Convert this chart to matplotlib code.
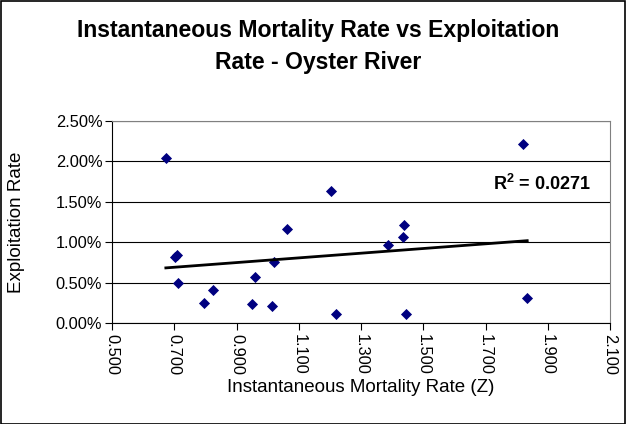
import matplotlib
matplotlib.use("Agg")
import matplotlib.pyplot as plt
from matplotlib.patches import Rectangle
from matplotlib.ticker import FuncFormatter, MultipleLocator
import numpy as np

# Instantaneous mortality rate (Z) and exploitation rate (%)
mortality = [0.673, 0.704, 0.708, 0.711, 0.796, 0.823, 0.951, 0.960, 1.015,
             1.021, 1.063, 1.203, 1.220, 1.387, 1.435, 1.439, 1.443, 1.819, 1.834]
exploitation = [2.04, 0.82, 0.84, 0.50, 0.25, 0.41, 0.23, 0.57, 0.21,
                0.76, 1.16, 1.63, 0.11, 0.96, 1.07, 1.21, 0.11, 2.21, 0.31]
r2_label = "R$^2$ = 0.0271"

plt.rcParams["font.family"] = ["Liberation Sans", "DejaVu Sans"]
plt.rcParams["mathtext.fontset"] = "custom"
plt.rcParams["mathtext.rm"] = "Liberation Sans:bold"
plt.rcParams["mathtext.bf"] = "Liberation Sans:bold"

fig = plt.figure(figsize=(6.26, 4.24), dpi=100)
ax = fig.add_axes([112 / 626, 1 - 323 / 424, 498 / 626, 202 / 424])

x = np.array(mortality)
y = np.array(exploitation) / 100.0

ax.scatter(x, y, marker="D", s=32, color="#000080", zorder=3, linewidths=0)

# linear trendline
slope, intercept = np.polyfit(x, y, 1)
xs = np.array([x.min(), x.max()])
ax.plot(xs, slope * xs + intercept, color="black", lw=2, zorder=4)

ax.set_xlim(0.5, 2.1)
ax.set_ylim(0, 0.025)
ax.xaxis.set_major_locator(MultipleLocator(0.2, offset=0.1))
ax.yaxis.set_major_locator(MultipleLocator(0.005))
ax.xaxis.set_major_formatter(FuncFormatter(lambda v, p: f"{v:.3f}"))
ax.yaxis.set_major_formatter(FuncFormatter(lambda v, p: f"{v * 100:.2f}%"))
ax.grid(axis="y", color="black", lw=0.8)
ax.set_axisbelow(True)

for side in ["top", "right"]:
    ax.spines[side].set_color("#808080")
ax.spines["left"].set_color("black")
ax.spines["bottom"].set_color("black")

ax.tick_params(axis="x", direction="out", length=5, labelsize=11.8, rotation=-90, pad=3)
ax.tick_params(axis="y", direction="out", length=5, labelsize=11.8, pad=2)
for lbl in ax.get_xticklabels():
    lbl.set_va("top")

ax.set_xlabel("Instantaneous Mortality Rate (Z)", fontsize=13.5)
ax.set_ylabel("Exploitation Rate", fontsize=13.5)
ax.xaxis.set_label_coords(0.5, (323 - 387) / 202)
ax.yaxis.set_label_coords((17 - 112) / 498, 0.5)
ax.xaxis.label.set_va("center")
ax.yaxis.label.set_va("center")

ax.text(2.038, 0.0172, r2_label, fontsize=13, fontweight="bold", ha="right", va="center")

fig.text(318.5 / 626, 1 - 31 / 424, "Instantaneous Mortality Rate vs Exploitation",
         ha="center", va="center", fontsize=16.6, fontweight="bold")
fig.text(318.5 / 626, 1 - 62 / 424, "Rate - Oyster River",
         ha="center", va="center", fontsize=16.6, fontweight="bold")

fig.patches.append(Rectangle((0.5 / 626, 0.5 / 424), 624.5 / 626, 422.5 / 424,
                             transform=fig.transFigure, fill=False, ec="black", lw=1.2))

fig.savefig("out.png", dpi=100)
